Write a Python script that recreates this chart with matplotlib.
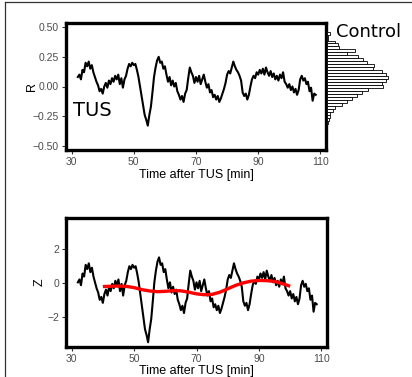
import numpy as np
import matplotlib
matplotlib.use('Agg')
import matplotlib.pyplot as plt
from matplotlib.lines import Line2D

# time grid of the TUS trace (min after TUS), one sample every half minute
T_START = 32.0
T_STEP = 0.5

# R trace after TUS
R_TUS = [0.08, 0.10, 0.06, 0.14, 0.12, 0.20, 0.17, 0.21, 0.15, 0.18,
         0.12, 0.08, 0.04, 0.01, -0.04, -0.02, -0.06, 0.00, 0.03, -0.01,
         0.05, 0.02, 0.07, 0.04, 0.09, 0.06, 0.10, 0.02, 0.07, -0.01,
         0.06, 0.09, 0.15, 0.19, 0.17, 0.20, 0.18, 0.19, 0.14, 0.08,
         0.00, -0.08, -0.16, -0.24, -0.28, -0.33, -0.24, -0.17, -0.05, 0.08,
         0.16, 0.22, 0.25, 0.20, 0.21, 0.15, 0.17, 0.10, 0.04, 0.08,
         0.01, 0.05, 0.00, 0.03, -0.04, -0.07, -0.11, -0.08, -0.13, -0.06,
         -0.03, 0.07, 0.16, 0.12, 0.09, 0.03, 0.08, 0.04, 0.09, 0.02,
         0.06, 0.10, 0.04, -0.01, 0.02, -0.05, -0.03, -0.09, -0.07, -0.11,
         -0.08, -0.13, -0.10, -0.06, -0.02, 0.03, 0.10, 0.13, 0.11, 0.16,
         0.21, 0.17, 0.14, 0.12, 0.09, 0.05, -0.05, -0.08, -0.06, -0.11,
         -0.07, 0.00, 0.06, 0.09, 0.07, 0.12, 0.10, 0.14, 0.11, 0.15,
         0.10, 0.16, 0.12, 0.09, 0.13, 0.08, 0.11, 0.06, 0.09, 0.05,
         0.10, 0.07, 0.12, 0.04, 0.02, -0.01, 0.02, -0.03, 0.00, -0.05,
         -0.02, -0.07, -0.03, 0.06, 0.09, 0.05, 0.07, 0.02, 0.04, -0.04,
         -0.01, -0.12, -0.06, -0.07]

# Z trace
Z_TUS = [0.03, 0.20, -0.14, 0.55, 0.37, 1.06, 0.81, 1.15, 0.63, 0.89,
         0.37, 0.03, -0.32, -0.57, -1.00, -0.83, -1.18, -0.66, -0.40, -0.75,
         -0.23, -0.49, -0.06, -0.32, 0.12, -0.14, 0.20, -0.49, -0.06, -0.75,
         -0.14, 0.12, 0.63, 0.98, 0.81, 1.06, 0.89, 0.98, 0.55, 0.03,
         -0.66, -1.35, -2.04, -2.73, -3.07, -3.50, -2.73, -2.13, -1.09, 0.03,
         0.72, 1.24, 1.50, 1.06, 1.15, 0.63, 0.81, 0.20, -0.32, 0.03,
         -0.57, -0.23, -0.66, -0.40, -1.00, -1.26, -1.61, -1.35, -1.78, -1.18,
         -0.92, -0.06, 0.72, 0.37, 0.12, -0.40, 0.03, -0.32, 0.12, -0.49,
         -0.14, 0.20, -0.32, -0.75, -0.49, -1.09, -0.92, -1.44, -1.26, -1.61,
         -1.35, -1.78, -1.52, -1.18, -0.83, -0.40, 0.20, 0.46, 0.29, 0.72,
         1.15, 0.81, 0.55, 0.37, 0.12, -0.23, -1.09, -1.35, -1.18, -1.61,
         -1.26, -0.66, -0.14, 0.12, -0.06, 0.37, 0.20, 0.55, 0.29, 0.63,
         0.20, 0.72, 0.37, 0.12, 0.46, 0.03, 0.29, -0.14, 0.12, -0.23,
         0.20, -0.06, 0.37, -0.32, -0.49, -0.75, -0.49, -0.92, -0.66, -1.09,
         -0.83, -1.26, -0.92, -0.14, 0.12, -0.23, -0.06, -0.49, -0.32, -1.00,
         -0.75, -1.70, -1.18, -1.26]

# smoothed Z (red curve)
SMOOTH_T = [40, 42.5, 45, 47.5, 50, 52.5, 55, 57.5, 60, 62.5, 65, 67.5, 70,
            72.5, 75, 77.5, 80, 82.5, 85, 87.5, 90, 92.5, 95, 97.5, 100]
SMOOTH_Z = [-0.22, -0.20, -0.19, -0.21, -0.28, -0.40, -0.48, -0.52, -0.50,
            -0.46, -0.47, -0.55, -0.65, -0.70, -0.68, -0.55, -0.35, -0.15,
            0.00, 0.10, 0.14, 0.13, 0.08, -0.05, -0.20]

# control distribution of R (bin centres and counts)
CTRL_BINS = [0.450, 0.425, 0.400, 0.375, 0.350, 0.325, 0.300, 0.275, 0.250,
             0.225, 0.200, 0.175, 0.150, 0.125, 0.100, 0.075, 0.050, 0.025,
             0.000, -0.025, -0.050, -0.075, -0.100, -0.125, -0.150, -0.175,
             -0.200, -0.225, -0.250, -0.275, -0.300]
CTRL_COUNTS = [3, 1, 1, 8, 11, 12, 28, 20, 31, 36, 40, 47, 46, 55, 59, 61,
               59, 55, 56, 41, 35, 30, 25, 20, 15, 8, 6, 3, 3, 2, 1]
BIN_WIDTH = 0.025

X_TICKS = [30, 50, 70, 90, 110]
R_TICKS = [-0.5, -0.25, 0.0, 0.25, 0.5]
R_TICK_LABELS = ['\u22120.50', '\u22120.25', '0.00', '0.25', '0.50']
Z_TICKS = [-2, 0, 2]
Z_TICK_LABELS = ['\u22122', '0', '2']

TICK_GREY = '#4d4d4d'


def style_axes(ax):
    for side in ax.spines.values():
        side.set_linewidth(2.4)
        side.set_color('black')
    ax.tick_params(axis='both', length=3, width=0.8, color='#333333',
                   labelcolor=TICK_GREY, labelsize=7.5, pad=2)
    for lab in ax.get_xticklabels() + ax.get_yticklabels():
        lab.set_family('Liberation Sans')


def main():
    t = T_START + T_STEP * np.arange(len(R_TUS))

    fig = plt.figure(figsize=(4.12, 3.77), dpi=100)

    # frame of the panel (only top and left visible in the crop)
    fig.add_artist(Line2D([5 / 412, 5 / 412], [0, 1 - 2 / 377],
                          color='#333333', lw=0.9, transform=fig.transFigure))
    fig.add_artist(Line2D([5 / 412, 1], [1 - 2 / 377, 1 - 2 / 377],
                          color='#333333', lw=0.9, transform=fig.transFigure))

    ax_r = fig.add_axes([66 / 412, 1 - 150 / 377, 260 / 412, 127 / 377])
    ax_h = fig.add_axes([327 / 412, 1 - 150 / 377, 80 / 412, 127 / 377],
                        sharey=ax_r)
    ax_z = fig.add_axes([66 / 412, 1 - 347 / 377, 261 / 412, 129 / 377])

    # upper panel: R
    ax_r.plot(t, R_TUS, color='black', lw=1.5)
    ax_r.set_xlim(28.2, 111.8)
    ax_r.set_ylim(-0.535, 0.535)
    ax_r.set_xticks(X_TICKS)
    ax_r.set_yticks(R_TICKS)
    ax_r.set_yticklabels(R_TICK_LABELS)
    ax_r.set_xlabel('Time after TUS [min]', fontsize=9, family='Liberation Sans')
    ax_r.set_ylabel('R', fontsize=9, family='Liberation Sans')
    ax_r.xaxis.set_label_coords(0.5, -0.15)
    ax_r.yaxis.set_label_coords(-0.107, 0.5)
    ax_r.text(30.6, -0.2, 'TUS', fontsize=14, ha='left', va='center')
    style_axes(ax_r)

    # control histogram
    ax_h.barh(CTRL_BINS, CTRL_COUNTS, height=BIN_WIDTH, left=0,
              color='white', edgecolor='black', linewidth=0.6)
    ax_h.set_xlim(0, 80)
    ax_h.axis('off')
    fig.text(336 / 412, 1 - 32 / 377, 'Control', fontsize=13,
             ha='left', va='center')

    # lower panel: Z
    ax_z.plot(t, Z_TUS, color='black', lw=1.5)
    ax_z.plot(SMOOTH_T, SMOOTH_Z, color='#ff0000', lw=2.4,
              solid_capstyle='butt')
    ax_z.set_xlim(28.2, 111.8)
    ax_z.set_ylim(-3.78, 3.82)
    ax_z.set_xticks(X_TICKS)
    ax_z.set_yticks(Z_TICKS)
    ax_z.set_yticklabels(Z_TICK_LABELS)
    ax_z.set_xlabel('Time after TUS [min]', fontsize=9, family='Liberation Sans')
    ax_z.set_ylabel('Z', fontsize=9, family='Liberation Sans')
    ax_z.xaxis.set_label_coords(0.5, -0.14)
    ax_z.yaxis.set_label_coords(-0.077, 0.5)
    style_axes(ax_z)

    fig.savefig('out.png', dpi=100)


if __name__ == '__main__':
    main()
